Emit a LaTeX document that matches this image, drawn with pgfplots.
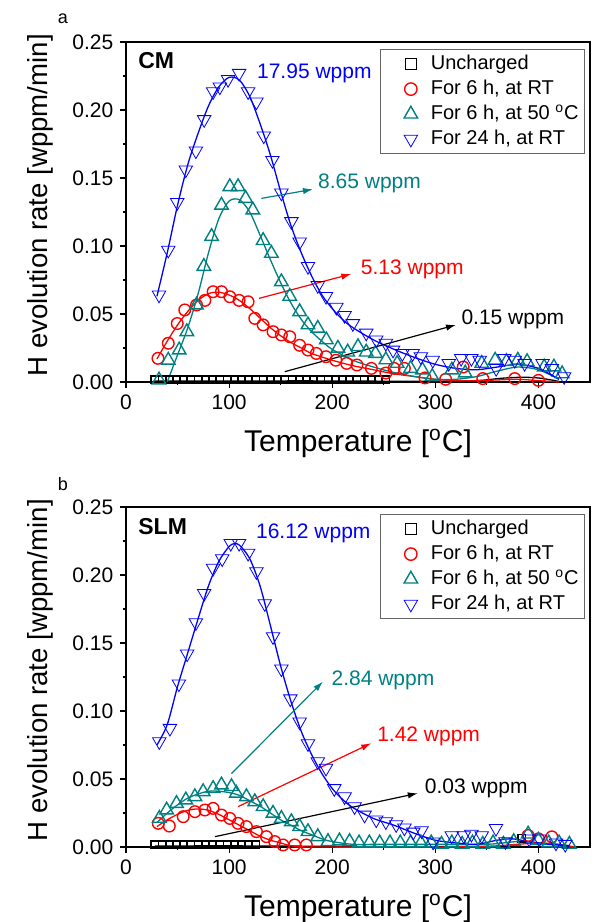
\documentclass[border=0pt]{standalone}
\usepackage{fontspec}
\setmainfont{Liberation Sans}
\usepackage{pgfplots}
\pgfplotsset{compat=1.18}
\usetikzlibrary{arrows.meta}
\definecolor{cblue}{RGB}{0,0,255}
\definecolor{cred}{RGB}{255,0,0}
\definecolor{cteal}{RGB}{0,128,128}

% ---------- top panel (CM) ----------
\pgfplotstableread{
T v
28 0.0015
35 0.0015
42 0.0015
49 0.0015
56 0.0015
63 0.0015
70 0.0015
77 0.0015
84 0.0015
91 0.0015
98 0.0015
105 0.0015
112 0.0015
119 0.0015
126 0.0015
133 0.0015
140 0.0015
147 0.0015
154 0.0015
161 0.0015
168 0.0015
175 0.0015
182 0.0015
189 0.0015
196 0.0015
203 0.0015
210 0.0015
217 0.0015
224 0.0015
231 0.0015
238 0.0015
245 0.0015
252 0.0015
}\topblackpts
\pgfplotstableread{
T v
28 0.0008
100 0.0008
200 0.0008
250 0.0006
300 0.0005
340 0.001
365 0.0028
385 0.0035
402 0.0028
420 0.0004
}\topblackline
\pgfplotstableread{
T v
31 0.0174
41 0.0285
49.7 0.043
57 0.053
68.4 0.0566
76.5 0.060
84.5 0.0664
92.6 0.0664
100.7 0.0627
109.7 0.060
118.4 0.059
124.9 0.0468
133 0.042
142.6 0.037
150.7 0.0346
158.8 0.0333
168.4 0.027
176.5 0.0235
184.6 0.021
194 0.0186
203.5 0.016
214 0.0137
224 0.0125
238 0.010
252 0.0066
260 0.010
270 0.010
290 0.003
310 0.002
327 0.011
346 0.0025
377 0.0025
400 0.0012
}\topredpts
\pgfplotstableread{
T v
30 0.017
40 0.030
50 0.042
60 0.052
70 0.060
80 0.065
90 0.066
100 0.064
110 0.060
120 0.054
130 0.047
140 0.040
150 0.034
160 0.029
170 0.025
180 0.021
200 0.016
220 0.012
240 0.009
260 0.006
280 0.004
300 0.002
320 0.001
340 0.001
360 0.0015
380 0.002
400 0.001
420 0.0
}\topredline
\pgfplotstableread{
T v
32 0.0015
41 0.016
51.6 0.0235
59 0.037
68.4 0.0566
75.5 0.085
83 0.107
92.6 0.130
100.7 0.1436
108.7 0.1436
116 0.135
123 0.1265
133 0.104
141 0.0946
150.7 0.0737
158.8 0.063
168.4 0.0517
176.5 0.042
186 0.0395
194.3 0.031
205.5 0.0248
215 0.022
225 0.026
233 0.022
242 0.021
252 0.0163
263 0.0137
276 0.010
287.5 0.0088
297 0.004
316 0.0088
329 0.0066
345 0.0137
358 0.016
369 0.015
380 0.016
389 0.015
405.6 0.011
415 0.011
423 0.006
}\toptealpts
\pgfplotstableread{
T v
40 0.0
50 0.020
60 0.040
70 0.065
80 0.095
90 0.120
100 0.133
110 0.134
120 0.125
130 0.108
140 0.090
150 0.073
160 0.058
170 0.046
180 0.037
190 0.030
200 0.024
220 0.016
240 0.011
260 0.007
280 0.004
300 0.002
320 0.002
340 0.004
360 0.008
380 0.011
400 0.009
420 0.002
}\toptealline
\pgfplotstableread{
T v
32 0.064
41 0.097
49.7 0.132
58 0.156
67.8 0.170
75.8 0.193
84.5 0.2135
91 0.217
99 0.2225
109.7 0.227
118.4 0.2135
126.5 0.206
133.6 0.181
142 0.163
150.7 0.139
160.4 0.118
168.4 0.103
176.5 0.085
186 0.071
194 0.063
204 0.055
212 0.049
220 0.043
233 0.036
242.7 0.031
252 0.0285
259 0.0235
268 0.021
278 0.021
286 0.0186
297.5 0.016
313 0.0137
325 0.0174
335 0.0174
343 0.016
359 0.010
367 0.0174
377 0.016
386.6 0.0137
404 0.0137
413 0.010
425 0.004
}\topbluepts
\pgfplotstableread{
T v
30 0.063
40 0.095
50 0.130
60 0.160
70 0.183
80 0.203
90 0.217
100 0.224
110 0.222
120 0.210
130 0.190
140 0.167
150 0.140
160 0.115
170 0.095
180 0.078
190 0.064
200 0.054
210 0.046
220 0.040
240 0.031
260 0.024
280 0.018
300 0.013
320 0.010
340 0.009
360 0.011
380 0.013
400 0.010
420 0.002
}\topblueline

% ---------- bottom panel (SLM) ----------
\pgfplotstableread{
T v
28 0.0015
35 0.0015
42 0.0015
49 0.0015
56 0.0015
63 0.0015
70 0.0015
77 0.0015
84 0.0015
91 0.0015
98 0.0015
105 0.0015
112 0.0015
119 0.0015
126 0.0015
384 0.0066
}\botblackpts
\pgfplotstableread{
T v
28 0.0008
130 0.0008
200 0.0005
300 0.0003
420 0.0003
}\botblackline
\pgfplotstableread{
T v
31.3 0.0174
42 0.0154
55.5 0.0223
66.8 0.026
76.5 0.0272
84.5 0.0284
92.6 0.0235
100.7 0.021
108.7 0.0174
116.8 0.015
126.5 0.0113
136.2 0.0076
144.2 0.004
152.3 0.0015
163.6 0.0015
174.9 0.0015
390 0.0085
400 0.006
413 0.0075
}\botredpts
\pgfplotstableread{
T v
30 0.015
40 0.020
50 0.024
60 0.027
70 0.028
80 0.027
90 0.024
100 0.020
110 0.016
120 0.012
130 0.008
140 0.005
150 0.003
160 0.001
180 0.0
300 0.0
350 0.0005
380 0.002
400 0.003
420 0.002
435 0.0
}\botredline
\pgfplotstableread{
T v
32.3 0.0211
39.4 0.0272
49 0.032
58 0.0346
66.8 0.037
74.8 0.0407
84.5 0.043
92.6 0.0456
102.3 0.0444
107 0.0395
116.8 0.037
124.9 0.0333
133 0.0297
142.6 0.0248
150.7 0.021
160.4 0.0186
168.4 0.015
176.5 0.0113
186 0.0076
195.9 0.004
207 0.0045
216.8 0.004
226 0.003
236 0.003
246 0.003
256 0.003
266 0.003
276 0.003
286 0.003
296 0.003
306 0.002
316 0.003
326 0.002
336 0.003
346 0.002
356 0.003
366 0.002
376 0.004
390 0.0095
400 0.005
410 0.003
420 0.003
430 0.002
}\bottealpts
\pgfplotstableread{
T v
30 0.018
40 0.025
50 0.031
60 0.036
70 0.039
80 0.041
90 0.041
100 0.040
110 0.038
120 0.034
130 0.030
140 0.025
150 0.020
160 0.016
170 0.012
180 0.009
190 0.006
200 0.004
220 0.002
250 0.002
300 0.002
350 0.002
380 0.004
400 0.003
430 0.001
}\bottealline
\pgfplotstableread{
T v
32.3 0.0775
42.6 0.0873
51.3 0.120
59.3 0.142
67.8 0.165
75.8 0.1865
84.5 0.205
93.3 0.212
101.6 0.2233
109.7 0.2233
118.4 0.216
126.5 0.2025
134.6 0.179
142.6 0.1547
150.7 0.131
159.4 0.109
168.4 0.092
176.5 0.076
186 0.0627
194 0.058
202 0.043
212 0.037
221.7 0.0297
231.4 0.0235
242.7 0.020
252 0.0186
262 0.0165
270 0.014
278.6 0.011
286.6 0.012
297.8 0.0037
316 0.0083
327.6 0.0083
335 0.0094
345 0.0083
358.8 0.0137
368 0.004
391 0.006
400.8 0.006
417 0.003
426 0.002
}\botbluepts
\pgfplotstableread{
T v
30 0.075
40 0.090
50 0.118
60 0.143
70 0.168
80 0.192
90 0.210
100 0.221
105 0.223
110 0.222
120 0.212
130 0.192
140 0.163
150 0.133
160 0.107
170 0.085
180 0.068
190 0.054
200 0.043
210 0.035
220 0.029
240 0.021
260 0.016
280 0.010
300 0.005
320 0.003
340 0.002
360 0.005
375 0.006
390 0.004
410 0.002
430 0.001
}\botblueline

\pgfplotsset{
  panel/.style={
    scale only axis, width=232pt, height=170pt,
    xmin=0, xmax=450, ymin=0, ymax=0.25,
    clip=false,
    xtick={0,100,200,300,400},
    minor xtick={50,150,250,350},
    ytick={0,0.05,0.10,0.15,0.20,0.25},
    minor ytick={0.025,0.075,0.125,0.175,0.225},
    yticklabel style={/pgf/number format/.cd, fixed, fixed zerofill, precision=2},
    /pgf/number format/assume math mode=true,
    tick label style={font=\fontsize{10.5}{12}\selectfont},
    xtick pos=bottom, ytick pos=left, tick align=outside,
    major tick length=2.8pt, minor tick length=1.6pt,
    axis line style={line width=0.6pt},
    every tick/.style={line width=0.6pt, black},
    xlabel={Temperature [\textsuperscript{o}C]},
    ylabel={H evolution rate [wppm/min]},
    xlabel style={font=\fontsize{15}{18}\selectfont, at={(axis description cs:0.5,0)}, anchor=base, yshift=-34.5pt},
    ylabel style={font=\fontsize{13.8}{16}\selectfont, at={(axis description cs:-0.185,0.52)}, anchor=center},
    legend cell align=left,
    legend style={at={(1,1)}, anchor=north east, xshift=-2.5pt, yshift=-3.6pt,
      draw=black!60, line width=0.4pt, font=\fontsize{10}{12}\selectfont,
      inner xsep=1pt, inner ysep=1pt, row sep=0pt,
      nodes={text height=7.5pt, text depth=2pt, inner ysep=1.5pt}},
    legend image code/.code={\draw[draw=none, fill=none] (0pt,-2pt) rectangle (22pt,2pt); \draw[#1] plot coordinates {(14pt,0pt)};},
  },
  ln/.style={line width=0.65pt, smooth, no marks},
  mk/.style={only marks, mark options={line width=0.7pt, solid}},
}

\begin{document}
\begin{tikzpicture}
\useasboundingbox (-63pt,-270pt) rectangle (234.5pt,191pt);

% ===================== panel a =====================
\begin{axis}[panel, at={(0pt,0pt)}, anchor=south west]
\addlegendimage{mk, black, mark=square, mark size=2.8pt}
\addlegendentry{Uncharged}
\addlegendimage{mk, cred, mark=o, mark size=3.1pt}
\addlegendentry{For 6 h, at RT}
\addlegendimage{mk, cteal, mark=triangle, mark size=3.9pt}
\addlegendentry{For 6 h, at 50 \textsuperscript{o}C}
\addlegendimage{mk, cblue, mark=triangle, mark size=3.9pt, mark options={rotate=180}}
\addlegendentry{For 24 h, at RT}

\addplot[ln, black, forget plot] table[x=T,y=v] {\topblackline};
\addplot[mk, black, mark=square, mark size=1.9pt, forget plot] table[x=T,y=v] {\topblackpts};
\addplot[ln, cred, forget plot] table[x=T,y=v] {\topredline};
\addplot[mk, cred, mark=o, mark size=2.9pt, forget plot] table[x=T,y=v] {\topredpts};
\addplot[ln, cteal, forget plot] table[x=T,y=v] {\toptealline};
\addplot[mk, cteal, mark=triangle, mark size=3.9pt, forget plot] table[x=T,y=v] {\toptealpts};
\addplot[ln, cblue, forget plot] table[x=T,y=v] {\topblueline};
\addplot[mk, cblue, mark=triangle, mark size=3.9pt, mark options={rotate=180}, forget plot] table[x=T,y=v] {\topbluepts};

\node[anchor=west, font=\bfseries\fontsize{11.5}{13}\selectfont, inner sep=0pt] at (axis cs:11.6,0.236) {CM};
\node[font=\fontsize{9}{10}\selectfont] at (axis description cs:-0.136,1.068) {a};

\draw[-{Latex[length=5pt,width=3.2pt]}, line width=0.6pt, black] (axis cs:154,0.0076) -- (axis cs:320,0.042);
\draw[-{Latex[length=5pt,width=3.2pt]}, line width=0.6pt, cred] (axis cs:129,0.0615) -- (axis cs:218.5,0.0794);
\draw[-{Latex[length=5pt,width=3.2pt]}, line width=0.6pt, cteal] (axis cs:131.3,0.135) -- (axis cs:181.3,0.1417);

\node[anchor=west, inner sep=0pt, font=\fontsize{10.5}{12}\selectfont, text=cblue] at (axis cs:126.8,0.227) {17.95 wppm};
\node[anchor=west, inner sep=0pt, font=\fontsize{10.5}{12}\selectfont, text=cteal] at (axis cs:186,0.146) {8.65 wppm};
\node[anchor=west, inner sep=0pt, font=\fontsize{10.5}{12}\selectfont, text=cred] at (axis cs:227.5,0.083) {5.13 wppm};
\node[anchor=west, inner sep=0pt, font=\fontsize{10.5}{12}\selectfont, text=black] at (axis cs:325,0.046) {0.15 wppm};
\end{axis}

% ===================== panel b =====================
\begin{axis}[panel, at={(0pt,-232.5pt)}, anchor=south west]
\addlegendimage{mk, black, mark=square, mark size=2.8pt}
\addlegendentry{Uncharged}
\addlegendimage{mk, cred, mark=o, mark size=3.1pt}
\addlegendentry{For 6 h, at RT}
\addlegendimage{mk, cteal, mark=triangle, mark size=3.9pt}
\addlegendentry{For 6 h, at 50 \textsuperscript{o}C}
\addlegendimage{mk, cblue, mark=triangle, mark size=3.9pt, mark options={rotate=180}}
\addlegendentry{For 24 h, at RT}

\addplot[ln, black, forget plot] table[x=T,y=v] {\botblackline};
\addplot[mk, black, mark=square, mark size=1.9pt, forget plot] table[x=T,y=v] {\botblackpts};
\addplot[ln, cred, forget plot] table[x=T,y=v] {\botredline};
\addplot[mk, cred, mark=o, mark size=2.9pt, forget plot] table[x=T,y=v] {\botredpts};
\addplot[ln, cteal, forget plot] table[x=T,y=v] {\bottealline};
\addplot[mk, cteal, mark=triangle, mark size=3.9pt, forget plot] table[x=T,y=v] {\bottealpts};
\addplot[ln, cblue, forget plot] table[x=T,y=v] {\botblueline};
\addplot[mk, cblue, mark=triangle, mark size=3.9pt, mark options={rotate=180}, forget plot] table[x=T,y=v] {\botbluepts};

\node[anchor=west, font=\bfseries\fontsize{11.5}{13}\selectfont, inner sep=0pt] at (axis cs:11.6,0.2355) {SLM};
\node[font=\fontsize{9}{10}\selectfont] at (axis description cs:-0.136,1.068) {b};

\draw[-{Latex[length=5pt,width=3.2pt]}, line width=0.6pt, black] (axis cs:86.2,0.0076) -- (axis cs:283,0.0395);
\draw[-{Latex[length=5pt,width=3.2pt]}, line width=0.6pt, cred] (axis cs:108.7,0.0297) -- (axis cs:237.8,0.0763);
\draw[-{Latex[length=5pt,width=3.2pt]}, line width=0.6pt, cteal] (axis cs:102.3,0.054) -- (axis cs:191,0.1216);

\node[anchor=west, inner sep=0pt, font=\fontsize{10.5}{12}\selectfont, text=cblue] at (axis cs:125.8,0.2306) {16.12 wppm};
\node[anchor=west, inner sep=0pt, font=\fontsize{10.5}{12}\selectfont, text=cteal] at (axis cs:199,0.1228) {2.84 wppm};
\node[anchor=west, inner sep=0pt, font=\fontsize{10.5}{12}\selectfont, text=cred] at (axis cs:243.3,0.0816) {1.42 wppm};
\node[anchor=west, inner sep=0pt, font=\fontsize{10.5}{12}\selectfont, text=black] at (axis cs:289.5,0.043) {0.03 wppm};
\end{axis}
\end{tikzpicture}
\end{document}
